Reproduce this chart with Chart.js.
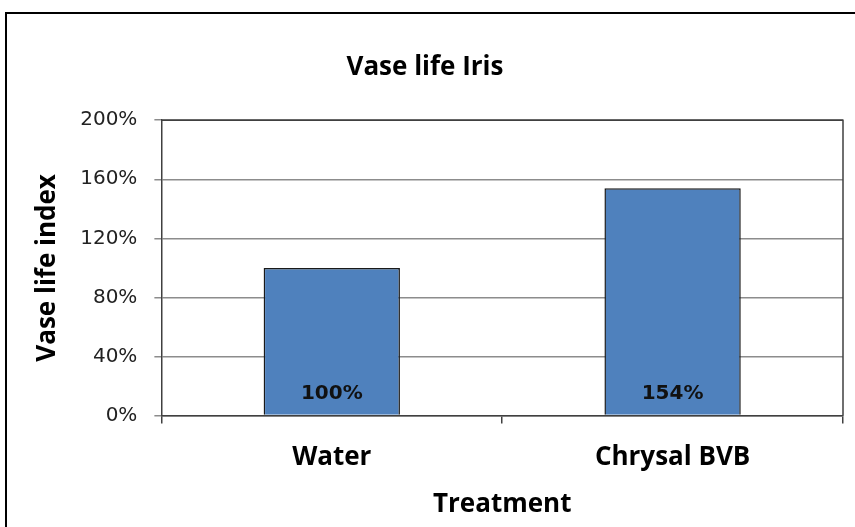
<!DOCTYPE html>
<html lang="en">
<head>
    <meta charset="UTF-8">
    <title>Vase life Iris</title>
    <style>
        html, body {
            margin: 0;
            padding: 0;
            background: #fff;
            overflow: hidden;
        }
        .chartBox {
            position: absolute;
            left: 5px;
            top: 12px;
            width: 848px;
            height: 513px;
            border-left: 2px solid #000;
            border-top: 2px solid #000;
        }
    </style>
</head>
<body>
<div class="chartBox">
    <canvas id="myChart"></canvas>
</div>
<script src="https://cdn.jsdelivr.net/npm/chart.js"></script>
<script>
    const treatments = ['Water', 'Chrysal BVB'];
    const vaseLifeIndex = [100, 154];
    const valueLabels = ['100%', '154%'];
    const yTicks = [0, 40, 80, 120, 160, 200];

    // frame on the top and right of the plot area
    const plotFrame = {
        id: 'plotFrame',
        afterDraw(chart) {
            const {ctx, chartArea} = chart;
            ctx.save();
            ctx.strokeStyle = '#404040';
            ctx.lineWidth = 1.5;
            ctx.beginPath();
            ctx.moveTo(chartArea.left, chartArea.top);
            ctx.lineTo(chartArea.right, chartArea.top);
            ctx.lineTo(chartArea.right, chartArea.bottom);
            ctx.stroke();
            ctx.restore();
        }
    };

    // value labels near the foot of each bar
    const barLabels = {
        id: 'barLabels',
        afterDatasetsDraw(chart) {
            const {ctx} = chart;
            const meta = chart.getDatasetMeta(0);
            const base = chart.scales.y.getPixelForValue(0);
            ctx.save();
            ctx.font = 'bold 20px "DejaVu Sans"';
            ctx.fillStyle = '#111';
            ctx.textAlign = 'center';
            ctx.textBaseline = 'middle';
            meta.data.forEach((bar, i) => {
                ctx.fillText(valueLabels[i], bar.x, base - 22);
            });
            ctx.restore();
        }
    };

    const data = {
        labels: treatments,
        datasets: [{
            label: 'Vase life index',
            data: vaseLifeIndex,
            backgroundColor: '#4F81BD',
            borderColor: '#1a1a1a',
            borderWidth: 1.5,
            barPercentage: 0.4,
            categoryPercentage: 1
        }]
    };

    const config = {
        type: 'bar',
        data: data,
        options: {
            responsive: true,
            maintainAspectRatio: false,
            animation: false,
            layout: {
                padding: {left: 0, right: 12, top: 0, bottom: 7}
            },
            plugins: {
                legend: {display: false},
                tooltip: {enabled: false},
                title: {
                    display: true,
                    text: 'Vase life Iris',
                    color: '#000',
                    font: {family: 'Open Sans', size: 26, weight: 'bold'},
                    padding: {top: 38, bottom: 37}
                }
            },
            scales: {
                x: {
                    grid: {
                        offset: true,
                        drawOnChartArea: false,
                        color: '#404040',
                        lineWidth: 1.5,
                        tickLength: 8
                    },
                    border: {color: '#404040', width: 1.5},
                    ticks: {
                        color: '#000',
                        font: {family: 'Open Sans', size: 26, weight: 'bold'},
                        padding: 18
                    },
                    title: {
                        display: true,
                        text: 'Treatment',
                        color: '#000',
                        font: {family: 'Open Sans', size: 26, weight: 'bold'},
                        padding: {top: -2, bottom: 0}
                    }
                },
                y: {
                    min: 0,
                    max: 200,
                    afterBuildTicks(scale) {
                        scale.ticks = yTicks.map(v => ({value: v}));
                    },
                    grid: {
                        color: '#8c8c8c',
                        lineWidth: 1.5,
                        tickLength: 7
                    },
                    border: {color: '#404040', width: 1.5},
                    ticks: {
                        color: '#222',
                        font: {family: 'DejaVu Sans', size: 20},
                        padding: 17,
                        callback: v => v + '%'
                    },
                    title: {
                        display: true,
                        text: 'Vase life index',
                        color: '#000',
                        font: {family: 'Open Sans', size: 26, weight: 'bold'},
                        padding: {top: 25, bottom: 0}
                    }
                }
            }
        },
        plugins: [plotFrame, barLabels]
    };

    const myChart = new Chart(
        document.getElementById('myChart'),
        config
    );
</script>
</body>
</html>
